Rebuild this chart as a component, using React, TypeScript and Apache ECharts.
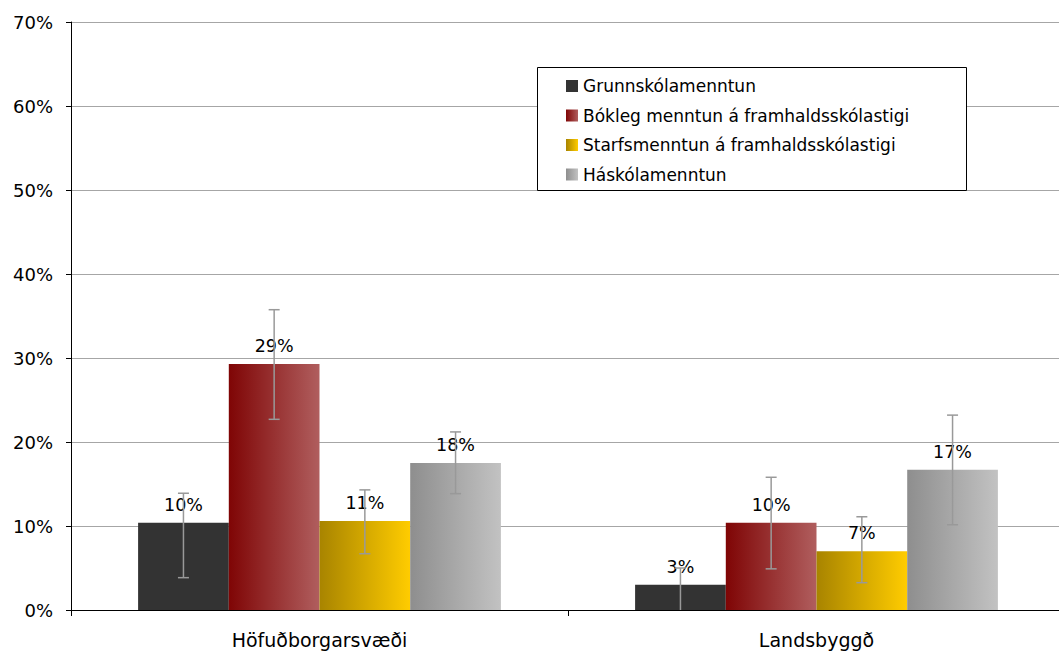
import React, { useEffect, useRef } from "react";
import * as echarts from "echarts";

const categories = ["Höfuðborgarsvæði", "Landsbyggð"];
const seriesNames = [
  "Grunnskólamenntun",
  "Bókleg menntun á framhaldsskólastigi",
  "Starfsmenntun á framhaldsskólastigi",
  "Háskólamenntun",
];
const grunnValues = [10.4, 3.0];
const boklegValues = [29.3, 10.4];
const starfsValues = [10.6, 7.0];
const haskoliValues = [17.5, 16.7];
const seriesValues = [grunnValues, boklegValues, starfsValues, haskoliValues];

const errLow = [
  [3.85, -0.5],
  [22.7, 4.9],
  [6.7, 3.25],
  [13.85, 10.15],
];
const errHigh = [
  [13.9, 5.0],
  [35.75, 15.8],
  [14.3, 11.1],
  [21.2, 23.2],
];
const yTicks = [0, 10, 20, 30, 40, 50, 60, 70];

const FONT = "'DejaVu Sans', Verdana, sans-serif";
const GAP = 0.27;

function grad(a: string, b: string) {
  return new echarts.graphic.LinearGradient(0, 0, 1, 0, [
    { offset: 0, color: a },
    { offset: 1, color: b },
  ]);
}

export default function App() {
  const ref = useRef<HTMLDivElement>(null);
  useEffect(() => {
    document.body.style.margin = "0";
    const chart = echarts.init(ref.current!, null, { renderer: "svg" });
    const colors = [
      "#333333",
      grad("#7f0505", "#b05e5e"),
      grad("#a88400", "#ffcc00"),
      grad("#8e8e8e", "#c2c2c2"),
    ];
    const errData: number[][] = [];
    for (let s = 0; s < 4; s++) {
      for (let c = 0; c < categories.length; c++) {
        errData.push([c, s, errLow[s][c], errHigh[s][c]]);
      }
    }
    const option: any = {
      animation: false,
      grid: { left: 71, right: -6, top: 22, bottom: 43, containLabel: false, outerBoundsMode: "none" },
      legend: {
        orient: "vertical",
        left: 566,
        top: 76,
        padding: 0,
        itemWidth: 12,
        itemHeight: 12,
        itemGap: 9.5,
        icon: "rect",
        data: seriesNames,
        z: 6,
        textStyle: { fontFamily: FONT, fontSize: 17, color: "#000", lineHeight: 20 },
      },
      graphic: [
        {
          type: "rect",
          left: 537,
          top: 67,
          shape: { width: 429, height: 123 },
          style: { fill: "#fff", stroke: "#000", lineWidth: 1 },
          z: 5,
        },
      ],
      xAxis: {
        type: "category",
        data: categories,
        axisLine: { lineStyle: { color: "#000", width: 1 } },
        axisTick: { show: true, length: 6, lineStyle: { color: "#000" } },
        axisLabel: { fontFamily: FONT, fontSize: 19, color: "#000", margin: 20 },
      },
      yAxis: {
        type: "value",
        min: 0,
        max: 70,
        interval: 10,
        axisLine: { show: true, lineStyle: { color: "#000", width: 1 } },
        axisTick: { show: true, length: 5, lineStyle: { color: "#000" } },
        axisLabel: {
          fontFamily: FONT,
          fontSize: 18,
          color: "#000",
          margin: 18,
          formatter: (v: number) => (yTicks.includes(v) ? v + "%" : ""),
        },
        splitLine: { lineStyle: { color: "#a6a6a6", width: 1 } },
      },
      series: [
        ...seriesNames.map((name, i) => ({
          name,
          type: "bar",
          data: seriesValues[i],
          barGap: "0%",
          barCategoryGap: GAP * 100 + "%",
          itemStyle: { color: colors[i] },
          label: {
            show: true,
            position: "top",
            distance: 9,
            fontFamily: FONT,
            fontSize: 17.5,
            color: "#000",
            formatter: (p: any) => Math.round(p.value) + "%",
          },
          z: 2,
        })),
        {
          type: "custom",
          data: errData,
          encode: { x: 0, y: [2, 3] },
          z: 10,
          silent: true,
          renderItem: (params: any, api: any) => {
            const c = api.value(0);
            const s = api.value(1);
            const lo = api.value(2);
            const hi = api.value(3);
            const center = api.coord([c, 0])[0];
            const bandW = api.size([1, 0])[0];
            const bw = (bandW * (1 - GAP)) / 4;
            const x = center - 2 * bw + bw * (s + 0.5);
            const yHi = api.coord([c, hi])[1];
            const yLo = api.coord([c, Math.max(lo, 0)])[1];
            const st = { stroke: "#999999", lineWidth: 1.5 };
            const children: any[] = [
              { type: "line", shape: { x1: x, y1: yHi, x2: x, y2: yLo }, style: st },
              { type: "line", shape: { x1: x - 5.5, y1: yHi, x2: x + 5.5, y2: yHi }, style: st },
            ];
            if (lo >= 0) {
              children.push({ type: "line", shape: { x1: x - 5.5, y1: yLo, x2: x + 5.5, y2: yLo }, style: st });
            }
            return { type: "group", children };
          },
        },
      ],
    };
    chart.setOption(option);
    return () => chart.dispose();
  }, []);
  return <div ref={ref} style={{ width: 1059, height: 653 }} />;
}
